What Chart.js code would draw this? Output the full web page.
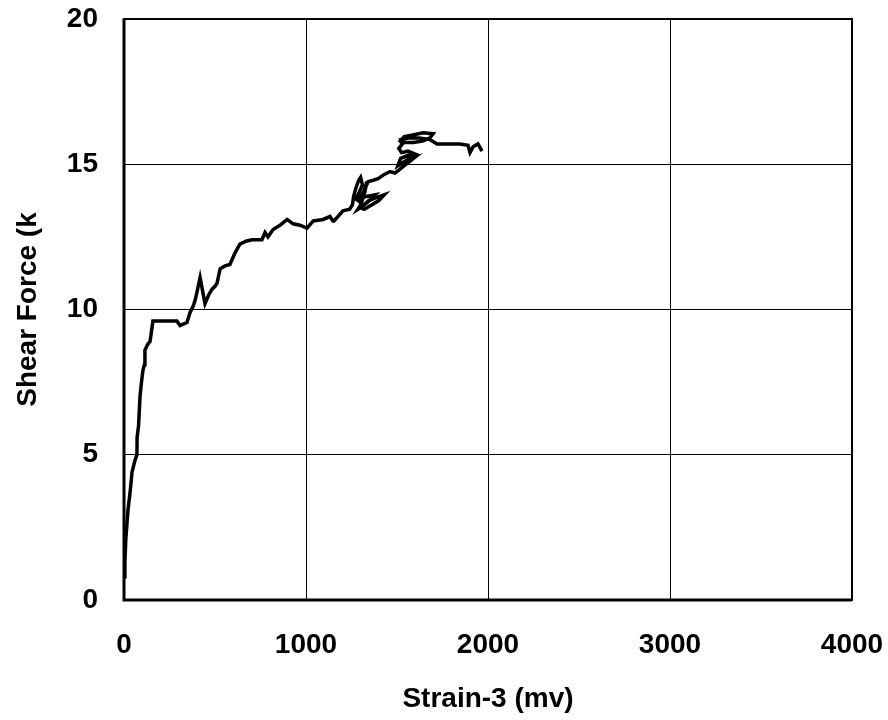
<!DOCTYPE html>
<html>
<head>
<meta charset="utf-8">
<script src="https://cdn.jsdelivr.net/npm/chart.js@4"></script>
<style>
  html, body { margin: 0; padding: 0; background: #fff; }
  #wrap { width: 888px; height: 720px; }
</style>
</head>
<body>
<div id="wrap"><canvas id="shearChart"></canvas></div>
<script>
// strain-3 (mv) and shear force (k)
var strain = [0, 5, 10, 22, 35, 44, 60, 71, 72, 80, 88, 96, 104, 112, 115, 130, 143, 150, 159,
  220, 291, 308, 346, 363, 379, 390, 401, 418, 430, 445, 465, 484, 500, 511, 528, 555, 582, 610,
  637, 670, 703, 758, 775, 791, 819, 857, 896, 929, 967, 1005, 1040, 1094, 1132, 1148, 1154,
  1203, 1240, 1255, 1262, 1275, 1290, 1300, 1310, 1290, 1275, 1295, 1320, 1335, 1320, 1300,
  1285, 1310, 1345, 1385, 1430, 1400, 1360, 1320, 1300, 1340, 1380, 1340, 1300, 1320, 1341,
  1370, 1396, 1430, 1462, 1489,
  1510, 1540, 1570, 1600, 1570, 1530, 1505, 1520, 1560, 1600, 1560, 1525, 1510, 1530, 1517,
  1540, 1580, 1643, 1698, 1680, 1640, 1590, 1540, 1525, 1560, 1620, 1680, 1720,
  1846, 1890, 1901, 1918, 1945, 1967];
var shear = [0.8, 1.3, 2.1, 3.1, 3.8, 4.4, 4.8, 5.0, 5.6, 6.0, 7.0, 7.5, 7.9, 8.1, 8.6, 8.8, 8.9, 9.2, 9.6,
  9.6, 9.6, 9.45, 9.55, 9.9, 10.1, 10.3, 10.6, 11.1, 10.7, 10.2, 10.5, 10.7, 10.8, 10.9, 11.4, 11.5, 11.55, 11.95,
  12.25, 12.35, 12.4, 12.4, 12.65, 12.5, 12.75, 12.9, 13.1, 12.95, 12.9, 12.8, 13.05, 13.1, 13.2, 13.05, 13.05,
  13.4, 13.45, 13.6, 13.9, 14.2, 14.45, 14.55, 14.3, 14.0, 13.8, 13.7, 14.1, 14.4, 13.95, 13.6,
  13.45, 13.55, 13.75, 13.85, 13.95, 13.75, 13.6, 13.45, 13.5, 13.7, 13.95, 13.9, 13.85, 14.1, 14.4,
  14.45, 14.5, 14.65, 14.75, 14.7,
  14.8, 14.95, 15.1, 15.25, 15.2, 15.05, 14.95, 15.2, 15.3, 15.35, 15.45, 15.4, 15.55, 15.7, 15.8,
  15.95, 16.0, 16.08, 16.05, 15.9, 15.8, 15.75, 15.75, 15.85, 15.9, 15.9, 15.85, 15.7,
  15.7, 15.65, 15.4, 15.6, 15.7, 15.45];

var xTicks = [0, 1000, 2000, 3000, 4000];
var yTicks = [0, 5, 10, 15, 20];

var points = strain.map(function (s, i) { return { x: s, y: shear[i] }; });

var frameBox = {
  id: 'frameBox',
  afterDraw: function (chart) {
    var a = chart.chartArea, c = chart.ctx;
    c.save();
    c.strokeStyle = '#000';
    c.lineWidth = 2;
    c.strokeRect(a.left, a.top, a.right - a.left, a.bottom - a.top);
    c.lineWidth = 3;
    c.beginPath();
    c.moveTo(a.left, a.top);
    c.lineTo(a.left, a.bottom);
    c.lineTo(a.right, a.bottom);
    c.stroke();
    c.restore();
  }
};

var boldFont = { family: '"Liberation Sans", Arial, sans-serif', size: 28, weight: 'bold' };

new Chart(document.getElementById('shearChart'), {
  type: 'scatter',
  data: {
    datasets: [{
      data: points,
      showLine: true,
      borderColor: '#000',
      borderWidth: 3.5,
      pointRadius: 0,
      tension: 0
    }]
  },
  options: {
    responsive: true,
    maintainAspectRatio: false,
    animation: false,
    layout: { padding: { top: 19, right: 36, left: 0, bottom: 0 } },
    plugins: { legend: { display: false }, tooltip: { enabled: false } },
    scales: {
      x: {
        type: 'linear',
        min: 0, max: 4000,
        afterBuildTicks: function (s) { s.ticks = xTicks.map(function (v) { return { value: v }; }); },
        afterFit: function (s) { s.height = 120; s.paddingLeft = 0; s.paddingRight = 0; },
        grid: { color: '#000', lineWidth: 1, drawTicks: false },
        border: { display: false },
        ticks: {
          color: '#000', font: boldFont, padding: 28, maxRotation: 0,
          callback: function (v) { return String(v); }
        },
        title: { display: true, text: 'Strain-3 (mv)', color: '#000', font: boldFont, padding: { top: 4, bottom: 4 } }
      },
      y: {
        type: 'linear',
        min: 0, max: 20,
        afterBuildTicks: function (s) { s.ticks = yTicks.map(function (v) { return { value: v }; }); },
        afterFit: function (s) { s.width = 124; s.paddingTop = 0; s.paddingBottom = 0; },
        grid: { color: '#000', lineWidth: 1, drawTicks: false },
        border: { display: false },
        ticks: { color: '#000', font: boldFont, padding: 26 },
        title: { display: true, text: 'Shear Force (k', color: '#000', font: boldFont, padding: { top: 11, bottom: 4 } }
      }
    }
  },
  plugins: [frameBox]
});
</script>
</body>
</html>
